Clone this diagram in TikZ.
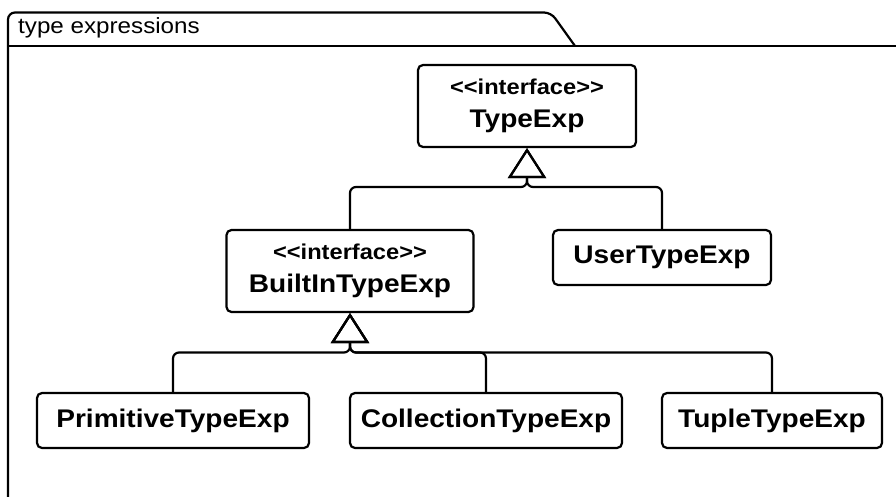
\documentclass[tikz,border=0pt]{standalone}
\usepackage{fontspec}
\setmainfont{Liberation Sans}[FakeStretch=1.1]
\usetikzlibrary{arrows.meta}

\tikzset{
  pkgframe/.style={line width=2.2pt, line join=round},
  umlbox/.style={draw, line width=2.2pt, rounded corners=5pt, inner sep=0pt,
    align=center, font=\fontsize{25.5}{30}\selectfont\bfseries},
  genline/.style={line width=2.2pt, rounded corners=6pt,
    -{Triangle[open, length=30pt, width=38pt]}},
}
\newcommand\stereotype[1]{{\fontsize{21.5}{24}\selectfont #1}}

\begin{document}
\begin{tikzpicture}[x=1pt, y=-1pt]
  \useasboundingbox (0,0) rectangle (896,497);

  % package frame with its name tab
  \draw[pkgframe, rounded corners=7pt] (8,500) -- (8,12.5) -- (551,12.5) -- (575,46);
  \draw[pkgframe] (8,46) -- (898,46);
  \node[anchor=base west, inner sep=0pt, font=\fontsize{22}{26}\selectfont]
    (pkgname) at (18,34) {type expressions};

  % classes
  \node[umlbox, minimum width=218pt, minimum height=82pt] (typeexp) at (527,106)
    {\stereotype{<{}<interface>{}>}\\[3pt] TypeExp};
  \node[umlbox, minimum width=247pt, minimum height=82pt] (builtin) at (350,271)
    {\stereotype{<{}<interface>{}>}\\[3pt] BuiltInTypeExp};
  \node[umlbox, minimum width=218pt, minimum height=55pt] (usertype) at (662,257.5)
    {UserTypeExp};
  \node[umlbox, minimum width=272pt, minimum height=55pt] (primitive) at (173,420.5)
    {PrimitiveTypeExp};
  \node[umlbox, minimum width=272pt, minimum height=55pt] (collection) at (486,420.5)
    {CollectionTypeExp};
  \node[umlbox, minimum width=220pt, minimum height=55pt] (tuple) at (772,420.5)
    {TupleTypeExp};

  % bus junctions below each superclass
  \coordinate (forkA) at (527,187);
  \coordinate (forkB) at (350,352.5);

  % generalizations
  \draw[genline] (builtin.north) |- (forkA) -- (typeexp.south);
  \draw[genline] (usertype.north) |- (forkA) -- (typeexp.south);
  \draw[genline] (primitive.north) |- (forkB) -- (builtin.south);
  \draw[genline] (collection.north) |- (forkB) -- (builtin.south);
  \draw[genline] (tuple.north) |- (forkB) -- (builtin.south);
\end{tikzpicture}
\end{document}
